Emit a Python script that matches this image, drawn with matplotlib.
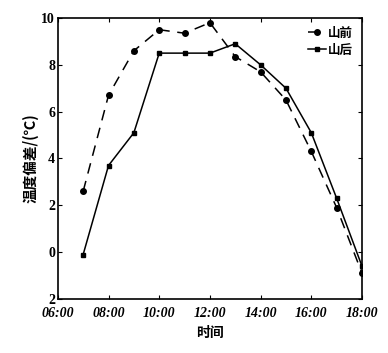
import matplotlib
matplotlib.use('Agg')
import matplotlib.pyplot as plt

plt.rcParams['font.family'] = ['Liberation Serif', 'Noto Sans CJK SC']

# hours of the day and temperature deviation (degC)
hours = [7, 8, 9, 10, 11, 12, 13, 14, 15, 16, 17, 18]
front = [2.6, 6.7, 8.6, 9.5, 9.35, 9.8, 8.35, 7.7, 6.5, 4.3, 1.9, -0.9]   # 山前
back = [-0.1, 3.7, 5.1, 8.5, 8.5, 8.5, 8.9, 8.0, 7.0, 5.1, 2.3, -0.6]     # 山后
xticks = [6, 8, 10, 12, 14, 16, 18]
xlabels = ['06:00', '08:00', '10:00', '12:00', '14:00', '16:00', '18:00']
yticks = [-2, 0, 2, 4, 6, 8, 10]
ylabels = ['2', '0', '2', '4', '6', '8', '10']

fig = plt.figure(figsize=(3.88, 3.53), dpi=100)
ax = fig.add_axes([0.149, 0.153, 0.784, 0.796])

ax.plot(hours, front, color='black', lw=1.1, linestyle=(0, (7, 5)),
        marker='o', ms=4, label='山前')
ax.plot(hours, back, color='black', lw=1.1, linestyle='-',
        marker='s', ms=3.5, label='山后')

ax.set_xlim(6, 18)
ax.set_ylim(-2, 10)
ax.set_xticks(xticks)
ax.set_xticklabels(xlabels, fontsize=10, fontstyle='italic', fontweight='bold')
ax.set_yticks(yticks)
ax.set_yticklabels(ylabels, fontsize=10, fontweight='bold')
ax.tick_params(direction='in', length=3, top=True, right=True)
ax.tick_params(axis='x', pad=6)
ax.tick_params(axis='y', pad=2)
for s in ax.spines.values():
    s.set_linewidth(1.2)

ax.set_xlabel('时间', family=['Noto Sans CJK SC'], fontsize=10, fontweight='bold', labelpad=4)
ax.set_ylabel('温度偏差/(℃)', family=['Noto Sans CJK SC', 'DejaVu Sans'], fontsize=10.5,
              fontweight='bold', labelpad=2)

leg = ax.legend(loc='upper right', frameon=False, handlelength=1.4, handletextpad=0.2,
                labelspacing=0.3, borderaxespad=0.3,
                prop={'family': 'Noto Sans CJK SC', 'size': 9, 'weight': 'bold'})

fig.savefig('out.png', dpi=100)
